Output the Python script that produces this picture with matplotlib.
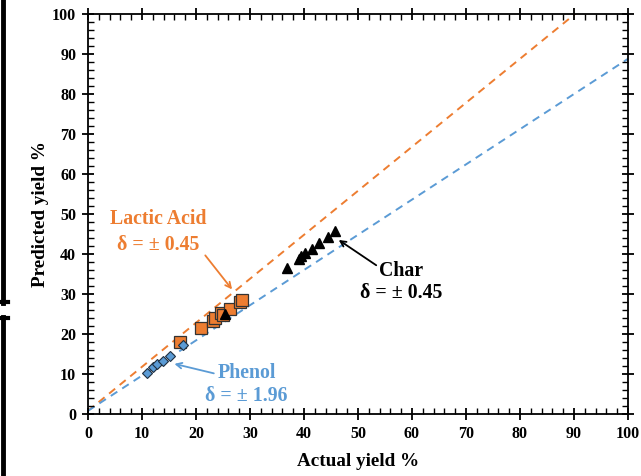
import matplotlib.pyplot as plt
from matplotlib.lines import Line2D
from matplotlib.ticker import MultipleLocator

# Data
phenol_actual = [11.0, 12.1, 12.8, 13.8, 15.1, 17.6]
phenol_pred = [10.3, 11.7, 12.4, 13.3, 14.5, 17.2]

lactic_actual = [17.0, 21.0, 23.2, 23.6, 24.7, 25.0, 26.3, 28.1, 28.5]
lactic_pred = [18.1, 21.4, 23.3, 24.0, 25.2, 24.8, 26.3, 28.1, 28.6]

char_actual = [25.3, 36.8, 39.0, 39.5, 40.2, 41.4, 42.8, 44.5, 45.7]
char_pred = [25.0, 36.4, 38.7, 39.5, 40.2, 41.2, 42.7, 44.3, 45.8]

# fitted trend lines (intercept, slope)
lactic_fit = (0.8, 1.10)
phenol_fit = (0.8, 0.88)

ORANGE = "#ED7D31"
BLUE = "#5B9BD5"

plt.rcParams["font.family"] = ["Liberation Serif", "DejaVu Serif"]
plt.rcParams["font.weight"] = "bold"

fig = plt.figure(figsize=(6.41, 4.76), dpi=100)
ax = fig.add_axes([88 / 641, 1 - 414 / 476, 540 / 641, 400 / 476])

xs = [0, 100]
ax.plot(xs, [lactic_fit[0] + lactic_fit[1] * x for x in xs], color=ORANGE,
        linestyle=(0, (4, 3)), linewidth=1.4, zorder=1)
ax.plot(xs, [phenol_fit[0] + phenol_fit[1] * x for x in xs], color=BLUE,
        linestyle=(0, (4, 3)), linewidth=1.4, zorder=1)

ax.plot(lactic_actual, lactic_pred, "s", color=ORANGE, markersize=8,
        markeredgecolor="#333333", markeredgewidth=0.9, zorder=3)
ax.plot(char_actual, char_pred, "^", color="black", markersize=7, zorder=4)
ax.plot(phenol_actual, phenol_pred, "D", color=BLUE, markersize=5.5,
        markeredgecolor="#1f2f40", markeredgewidth=0.8, zorder=5)

ax.set_xlim(0, 100)
ax.set_ylim(0, 100)
ax.xaxis.set_major_locator(MultipleLocator(10))
ax.yaxis.set_major_locator(MultipleLocator(10))
ax.xaxis.set_minor_locator(MultipleLocator(2))
ax.yaxis.set_minor_locator(MultipleLocator(2))
ax.tick_params(which="major", direction="inout", length=9, width=1.3,
               top=True, right=True, labelsize=11.5, pad=4)
ax.tick_params(which="minor", direction="in", length=4, width=1,
               top=True, right=True)
for s in ax.spines.values():
    s.set_linewidth(1.3)

ax.set_xlabel("Actual yield %", fontsize=13.8, fontweight="bold", labelpad=8)
ax.set_ylabel("Predicted yield %", fontsize=13.8, fontweight="bold", labelpad=2)

# annotations
ANN = 14.3
ax.annotate("", xy=(27.0, 30.6), xytext=(21.4, 40.2),
            arrowprops=dict(arrowstyle="->", color=ORANGE, lw=1.3))
ax.text(13.0, 48.8, "Lactic Acid", color=ORANGE, fontsize=ANN,
        fontweight="bold", ha="center", va="center")
ax.text(13.0, 42.3, "δ = ± 0.45", color=ORANGE, fontsize=ANN,
        fontweight="bold", ha="center", va="center")

ax.annotate("", xy=(46.0, 43.9), xytext=(53.8, 36.8),
            arrowprops=dict(arrowstyle="->", color="black", lw=1.3))
ax.text(58.0, 35.8, "Char", color="black", fontsize=ANN,
        fontweight="bold", ha="center", va="center")
ax.text(58.0, 30.3, "δ = ± 0.45", color="black", fontsize=ANN,
        fontweight="bold", ha="center", va="center")

ax.annotate("", xy=(15.5, 12.7), xytext=(23.8, 10.0),
            arrowprops=dict(arrowstyle="->", color=BLUE, lw=1.3))
ax.text(24.1, 10.2, "Phenol", color=BLUE, fontsize=ANN,
        fontweight="bold", ha="left", va="center")
ax.text(21.7, 4.6, "δ = ± 1.96", color=BLUE, fontsize=ANN,
        fontweight="bold", ha="left", va="center")

# dark border pieces at the left edge of the image
W, H = 641, 476
fig.add_artist(Line2D([3 / W, 3 / W], [1, 1 - 303 / H], color="black", lw=3.5,
                      transform=fig.transFigure))
fig.add_artist(Line2D([1.5 / W, 8 / W], [1 - 302 / H, 1 - 302 / H],
                      color="black", lw=3, transform=fig.transFigure))
fig.add_artist(Line2D([3 / W, 3 / W], [1 - 317 / H, 0], color="black", lw=3.5,
                      transform=fig.transFigure))
fig.add_artist(Line2D([1.5 / W, 8 / W], [1 - 318 / H, 1 - 318 / H],
                      color="black", lw=3, transform=fig.transFigure))

fig.savefig("out.png", dpi=100, facecolor="white")
